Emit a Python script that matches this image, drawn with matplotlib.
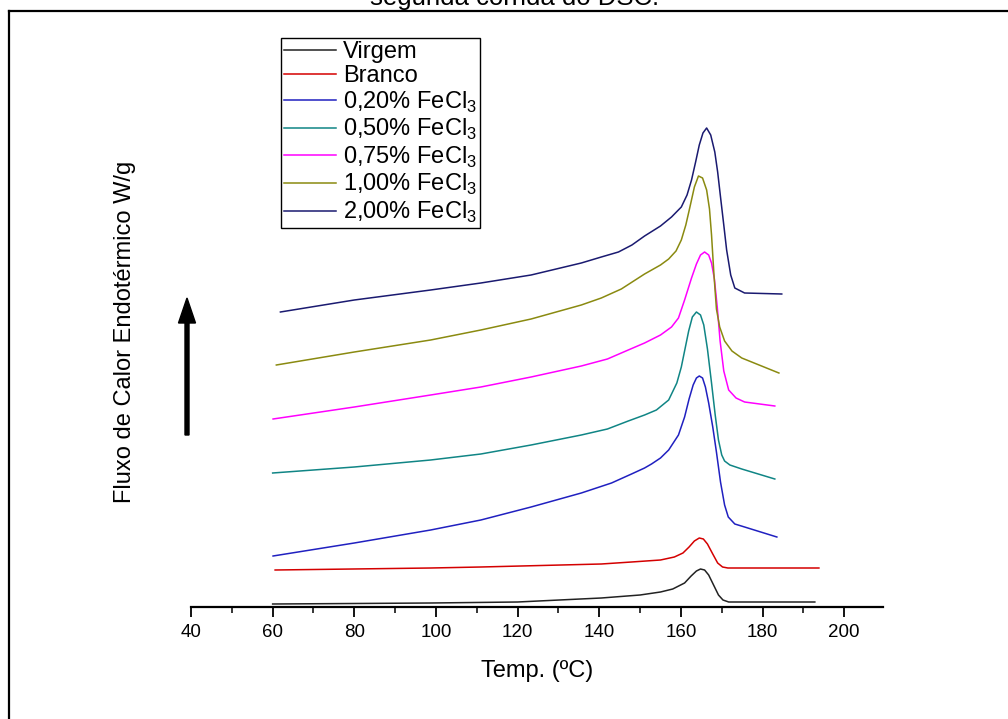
import numpy as np
import matplotlib.pyplot as plt
from matplotlib.lines import Line2D
from matplotlib.patches import FancyArrow
from matplotlib.ticker import MultipleLocator

plt.rcParams['font.family'] = ['Liberation Sans', 'DejaVu Sans']
plt.rcParams['mathtext.fontset'] = 'custom'
plt.rcParams['mathtext.rm'] = 'Liberation Sans'

# ---- data (temperature in C, heat flow offset in arb. W/g) ----
labels = ['Virgem', 'Branco', r'0,20% FeCl$_3$', r'0,50% FeCl$_3$',
          r'0,75% FeCl$_3$', r'1,00% FeCl$_3$', r'2,00% FeCl$_3$']
colors = ['#222222', '#d40000', '#2020c0', '#108585', '#ff00ff', '#8a8a10', '#1a1a70']

t_virgem = [60, 80, 98.7, 120, 140.5, 150, 155, 158, 160.9, 162.5, 163.8, 164.8, 165.8, 166.8,
            168, 169.2, 170.3, 171.7, 175, 192.8]
h_virgem = [0.03, 0.035, 0.04, 0.05, 0.09, 0.12, 0.15, 0.18, 0.24, 0.31, 0.36, 0.38, 0.37, 0.32,
            0.22, 0.12, 0.07, 0.05, 0.05, 0.05]

t_branco = [60.6, 98.7, 111, 140.5, 147.9, 155, 158.4, 160.5, 162, 163.3, 164.5, 165.5, 166.5,
            167.8, 169, 170.2, 171.5, 180, 193.8]
h_branco = [0.37, 0.39, 0.40, 0.43, 0.45, 0.47, 0.50, 0.54, 0.60, 0.66, 0.69, 0.68, 0.63,
            0.53, 0.44, 0.40, 0.39, 0.39, 0.39]

t_020 = [60.1, 80, 98.7, 111, 123.3, 135.6, 143, 147.9, 151.1, 152.8, 155, 157, 159.4, 160.9,
         162, 163, 163.8, 164.5, 165.3, 166, 166.8, 167.8, 168.7, 169.7, 170.7, 171.6, 173.2,
         175.6, 183.5]
h_020 = [0.51, 0.64, 0.77, 0.87, 1.00, 1.14, 1.24, 1.33, 1.39, 1.43, 1.49, 1.57, 1.72, 1.90,
         2.08, 2.22, 2.29, 2.31, 2.29, 2.20, 2.04, 1.80, 1.55, 1.25, 1.02, 0.90, 0.83,
         0.80, 0.70]

t_050 = [60, 80, 98.7, 111, 123.3, 135.6, 142, 147.1, 151.1, 154, 157, 159, 160.1, 161, 161.9,
         162.8, 163.8, 164.8, 165.6, 166.5, 167.5, 168.4, 169.2, 170, 170.7, 172, 174.9, 183]
h_050 = [1.34, 1.40, 1.47, 1.53, 1.62, 1.72, 1.78, 1.86, 1.92, 1.97, 2.07, 2.24, 2.40, 2.58, 2.76,
         2.90, 2.95, 2.92, 2.82, 2.58, 2.24, 1.92, 1.67, 1.52, 1.46, 1.42, 1.38, 1.28]

t_075 = [60.1, 80, 98.7, 111, 123.3, 135.6, 142, 147.1, 151.1, 155, 157.7, 159.4, 160.9, 162.6,
         163.8, 164.8, 165.8, 166.8, 167.5, 168.2, 168.9, 169.6, 170.5, 171.7, 173.5, 175.6, 183]
h_075 = [1.88, 2.00, 2.12, 2.20, 2.30, 2.41, 2.48, 2.57, 2.64, 2.72, 2.80, 2.89, 3.07, 3.29,
         3.43, 3.52, 3.55, 3.52, 3.44, 3.28, 3.00, 2.66, 2.36, 2.17, 2.09, 2.05, 2.01]

t_100 = [60.9, 80, 98.7, 111, 123.3, 135.6, 140.5, 145.4, 151.1, 155, 157, 158.8, 160.1, 161.2,
         162.1, 163.3, 164.3, 165.3, 166.3, 167, 167.5, 168.1, 168.7, 169.5, 170.7, 172.5,
         174.9, 184]
h_100 = [2.42, 2.55, 2.67, 2.77, 2.88, 3.02, 3.09, 3.18, 3.33, 3.42, 3.48, 3.56, 3.67, 3.82,
         3.98, 4.20, 4.31, 4.29, 4.17, 3.98, 3.72, 3.32, 2.98, 2.80, 2.66, 2.56,
         2.49, 2.34]

t_200 = [61.9, 80, 98.7, 111, 123.3, 135.6, 140.5, 144.7, 148, 151.1, 155, 157.7, 160.1, 161.5,
         162.6, 163.6, 164.5, 165.4, 166.3, 167.3, 168.3, 169, 169.7, 170.5, 171.2, 172.2,
         173.2, 175.6, 184.7]
h_200 = [2.95, 3.07, 3.17, 3.24, 3.32, 3.44, 3.50, 3.55, 3.62, 3.71, 3.81, 3.90, 4.00, 4.12,
         4.27, 4.45, 4.62, 4.74, 4.79, 4.72, 4.55, 4.35, 4.10, 3.82, 3.57, 3.32,
         3.19, 3.14, 3.13]

temps = [t_virgem, t_branco, t_020, t_050, t_075, t_100, t_200]
flows = [h_virgem, h_branco, h_020, h_050, h_075, h_100, h_200]

# ---- figure ----
W, H = 1008, 719
fig = plt.figure(figsize=(W / 100, H / 100), dpi=100)
ax = fig.add_axes([191 / W, (H - 607) / H, (883 - 191) / W, 567 / H])

for t, h, c, lab in zip(temps, flows, colors, labels):
    ax.plot(t, h, color=c, lw=1.1, label=lab)

ax.set_xlim(40, 209.5)
ax.set_ylim(0, 5.67)
for s in ['top', 'right', 'left']:
    ax.spines[s].set_visible(False)
ax.spines['bottom'].set_linewidth(1.6)
ax.set_yticks([])
ax.xaxis.set_major_locator(MultipleLocator(20))
ax.xaxis.set_minor_locator(MultipleLocator(10))
ax.tick_params(axis='x', which='major', direction='out', length=7, width=1.3, labelsize=13.5, pad=5)
ax.tick_params(axis='x', which='minor', direction='out', length=4, width=1.1)
ax.set_xlabel('Temp. (ºC)', fontsize=17, labelpad=14)

handles = [Line2D([], [], color=c, lw=1.1) for c in colors]
leg = fig.legend(handles, labels, loc='upper left', bbox_to_anchor=(281 / W, 1 - 38 / H),
                 bbox_transform=fig.transFigure, borderaxespad=0, fontsize=17,
                 frameon=True, fancybox=False, edgecolor='black', framealpha=1,
                 handlelength=2.2, handletextpad=0.3, labelspacing=0.1, borderpad=0.12)
leg.get_frame().set_linewidth(1.0)

# y label and arrow
fig.text(125 / W, 1 - 332 / H, 'Fluxo de Calor Endotérmico W/g', rotation=90,
         ha='center', va='center', fontsize=17)
fig.add_artist(FancyArrow(187 / W, 1 - 435 / H, 0, (435 - 298) / H, width=4 / W,
                          head_width=17 / W, head_length=25 / H, length_includes_head=True,
                          color='black', transform=fig.transFigure))

# cut-off title (as in the source image) and page border
fig.text(515 / W, 1 - 5 / H, 'segunda corrida do DSC.', ha='center', va='baseline', fontsize=18.5)
fig.add_artist(Line2D([9 / W, 1], [1 - 11 / H, 1 - 11 / H], color='black', lw=1.6,
                      transform=fig.transFigure))
fig.add_artist(Line2D([9 / W, 9 / W], [0, 1 - 11 / H], color='black', lw=1.6,
                      transform=fig.transFigure))

fig.savefig('out.png', dpi=100)
plt.close(fig)
